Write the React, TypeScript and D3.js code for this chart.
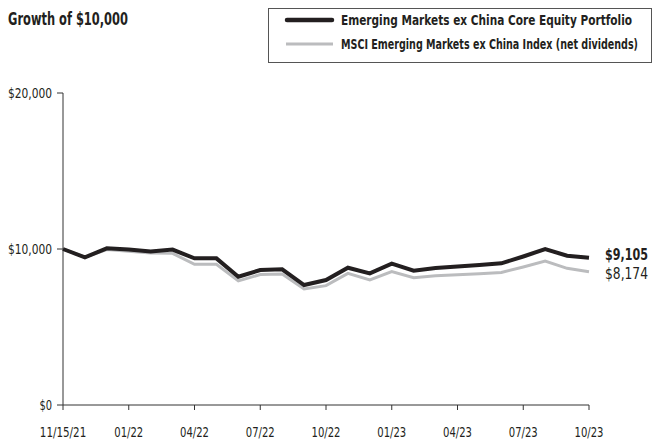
import React from "react";
import * as d3 from "d3";

const dates = [
  "11/15/21", "11/21", "12/21", "01/22", "02/22", "03/22", "04/22", "05/22", "06/22",
  "07/22", "08/22", "09/22", "10/22", "11/22", "12/22", "01/23", "02/23", "03/23",
  "04/23", "05/23", "06/23", "07/23", "08/23", "09/23", "10/23",
];
const portfolio = [
  10000, 9470, 10040, 9970, 9840, 9960, 9400, 9400, 8225, 8650, 8700, 7690, 8010,
  8800, 8440, 9060, 8610, 8780, 8880, 8970, 9080, 9520, 9990, 9570, 9440,
];
const indexSeries = [
  10000, 9470, 9960, 9860, 9740, 9720, 9020, 9020, 7960, 8360, 8390, 7440, 7650,
  8440, 8020, 8550, 8160, 8280, 8350, 8420, 8500, 8850, 9230, 8760, 8540,
];
const tickLabels = ["11/15/21", "01/22", "04/22", "07/22", "10/22", "01/23", "04/23", "07/23", "10/23"];
const yTicks = [0, 10000, 20000];
const endLabels = ["$9,105", "$8,174"];
const legendNames = [
  "Emerging Markets ex China Core Equity Portfolio",
  "MSCI Emerging Markets ex China Index (net dividends)",
];
const title = "Growth of $10,000";

const FONT = "'DejaVu Sans Condensed', 'Liberation Sans Narrow', sans-serif";
const DARK = "#231f20";
const GRAY = "#bbbcbe";

type CTProps = {
  x: number;
  y: number;
  w: number;
  size: number;
  sy: number;
  anchor?: "start" | "middle" | "end";
  bold?: boolean;
  children: React.ReactNode;
};

function CText({ x, y, w, size, sy, anchor = "start", bold = false, children }: CTProps) {
  return (
    <text
      transform={`translate(${x},${y}) scale(1,${sy})`}
      fontSize={size}
      fontWeight={bold ? "bold" : "normal"}
      textAnchor={anchor}
      textLength={w}
      lengthAdjust="spacingAndGlyphs"
      fill={DARK}
    >
      {children}
    </text>
  );
}

export default function App() {
  const x = d3.scaleLinear().domain([0, dates.length - 1]).range([63, 589]);
  const y = d3.scaleLinear().domain([0, 20000]).range([405, 93]);
  const line = d3
    .line<number>()
    .x((_, i) => x(i))
    .y((d) => y(d));
  const fmt = d3.format("$,");
  const tickIdx = tickLabels.map((t) => dates.indexOf(t));

  return (
    <svg
      width={655}
      height={442}
      style={{ position: "absolute", left: 0, top: 0, background: "#fff" }}
      fontFamily={FONT}
    >
      <CText x={8} y={25} w={120} size={12.5} sy={1.35} bold>
        {title}
      </CText>

      {/* legend */}
      <rect x={268.5} y={8.5} width={383} height={54} fill="#fff" stroke="#555" strokeWidth={1} />
      <line x1={287} x2={332} y1={20} y2={20} stroke={DARK} strokeWidth={4.5} strokeLinecap="round" />
      <line x1={286} x2={333} y1={44} y2={44} stroke={GRAY} strokeWidth={3} />
      <CText x={341} y={25} w={291} size={11.2} sy={1.25} bold>
        {legendNames[0]}
      </CText>
      <CText x={341} y={49} w={297} size={11.2} sy={1.25} bold>
        {legendNames[1]}
      </CText>

      {/* y axis */}
      <line x1={63} x2={63} y1={y(20000)} y2={y(0)} stroke="#333" strokeWidth={1} />
      {yTicks.map((t) => {
        const s = fmt(t);
        return (
          <g key={t}>
            <line x1={57} x2={63} y1={y(t)} y2={y(t)} stroke="#333" strokeWidth={1} />
            <CText x={52} y={y(t) + 5} w={s.length * 6.3} size={11} sy={1.25} anchor="end">
              {s}
            </CText>
          </g>
        );
      })}

      {/* x axis */}
      <line x1={63} x2={589} y1={y(0)} y2={y(0)} stroke="#333" strokeWidth={1} />
      {tickIdx.map((i, k) => (
        <g key={k}>
          <line x1={x(i)} x2={x(i)} y1={y(0)} y2={y(0) + 5} stroke="#333" strokeWidth={1} />
          <CText x={x(i)} y={437} w={tickLabels[k].length * 5.8} size={11} sy={1.3} anchor="middle">
            {tickLabels[k]}
          </CText>
        </g>
      ))}

      {/* series */}
      <path d={line(indexSeries) || ""} fill="none" stroke={GRAY} strokeWidth={3} />
      <path d={line(portfolio) || ""} fill="none" stroke={DARK} strokeWidth={4} />

      {/* end labels */}
      <CText x={605} y={259.5} w={43} size={12.5} sy={1.28} bold>
        {endLabels[0]}
      </CText>
      <CText x={605} y={279} w={43} size={12.5} sy={1.28}>
        {endLabels[1]}
      </CText>
    </svg>
  );
}
